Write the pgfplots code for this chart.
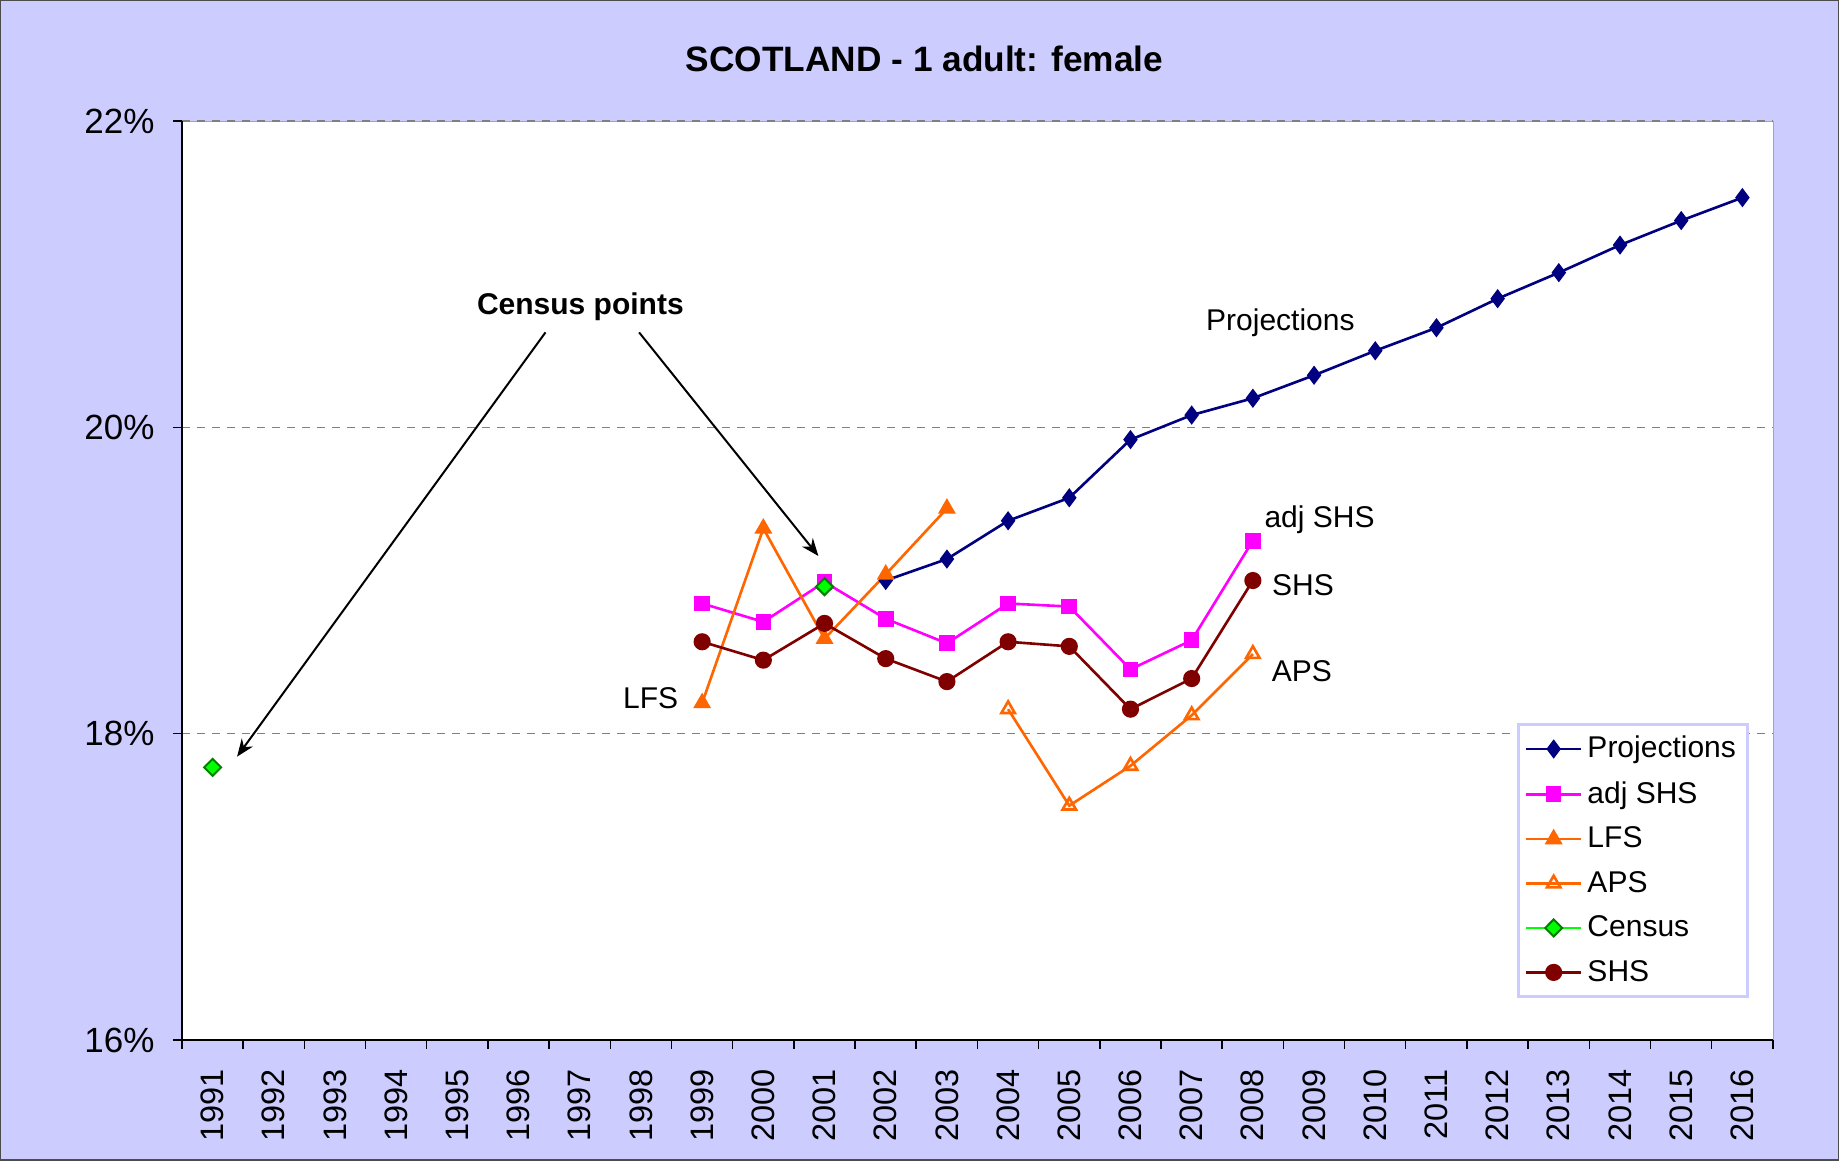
\documentclass[border=0pt]{standalone}
\usepackage{pgfplots}
\pgfplotsset{compat=1.18}
\usepackage{fontspec}
\setmainfont{Liberation Sans}
\usetikzlibrary{arrows.meta}
\definecolor{bgc}{HTML}{CCCCFF}
\definecolor{proj}{HTML}{000080}
\definecolor{adj}{HTML}{FF00FF}
\definecolor{lfs}{HTML}{FF6600}
\definecolor{cen}{HTML}{00FF00}
\definecolor{cend}{HTML}{008000}
\definecolor{shs}{HTML}{800000}
\begin{document}
\begin{tikzpicture}
\fill[bgc] (-72.8pt,-48pt) rectangle (662.8pt,416pt);
\begin{axis}[
  scale only axis, width=636.4pt, height=367.6pt,
  at={(0pt,0pt)}, anchor=south west,
  xmin=1990.5, xmax=2016.5, ymin=16, ymax=22,
  axis x line*=bottom, axis y line*=left,
  axis line style={black, line width=0.6pt},
  axis background/.style={fill=white, draw=gray!70},
  xtick={1991,...,2016},
  minor xtick={1990.5,1991.5,...,2016.5},
  tick align=outside,
  major tick length=3.5pt, minor tick length=3.5pt,
  major x tick style={draw=none},
  minor x tick style={black, line width=0.6pt},
  major y tick style={black, line width=0.6pt},
  ytick={16,18,20,22},
  yticklabels={16\%,18\%,20\%,22\%},
  ymajorgrids, grid style={dashed, gray, line width=0.6pt},
  /pgf/number format/assume math mode=true,
  /pgf/number format/1000 sep={},
  xticklabel style={rotate=90, anchor=east, font=\fontsize{13}{15}\selectfont, xshift=-4.7pt},
  yticklabel style={font=\fontsize{14}{16}\selectfont, xshift=-4pt},
  unbounded coords=jump,
  legend style={at={(rel axis cs:0.985,0.0457)}, anchor=south east, draw=bgc, line width=1.4pt,
    fill=white, font=\fontsize{12}{14}\selectfont, row sep=3.9pt, inner sep=2.6pt},
  legend cell align=left,
  legend image code/.code={\draw[mark repeat=2,mark phase=2,#1] plot coordinates {(0pt,0pt)(11pt,0pt)(22pt,0pt)};},
]
\addplot[proj, line width=1.05pt, mark=diamond*, mark size=3pt, mark options={fill=proj}] coordinates {
(2002,19.00)(2003,19.14)(2004,19.39)(2005,19.54)(2006,19.92)(2007,20.08)(2008,20.19)(2009,20.34)
(2010,20.50)(2011,20.65)(2012,20.84)(2013,21.01)(2014,21.19)(2015,21.35)(2016,21.50)};
\addlegendentry{Projections}
\addplot[adj, line width=1.05pt, mark=square*, mark size=2.6pt, mark options={fill=adj}] coordinates {
(1999,18.85)(2000,18.73)(2001,18.99)(2002,18.75)(2003,18.59)(2004,18.85)(2005,18.83)(2006,18.42)(2007,18.61)(2008,19.26)};
\addlegendentry{adj SHS}
\addplot[lfs, line width=1.05pt, mark=triangle*, mark size=3.1pt, mark options={fill=lfs}] coordinates {
(1999,18.20)(2000,19.34)(2001,18.62)(2002,19.04)(2003,19.47)};
\addlegendentry{LFS}
\addplot[lfs, line width=1.05pt, mark=triangle, mark size=3.1pt, mark options={fill=white}] coordinates {
(2004,18.16)(2005,17.53)(2006,17.79)(2007,18.12)(2008,18.52)};
\addlegendentry{APS}
\addplot[cen, line width=1.05pt, mark=diamond*, mark size=3.4pt, mark options={fill=cen, draw=cend, line width=0.8pt, xscale=1.33}] coordinates {
(1991,17.78)(1992,nan)(2001,18.96)};
\addlegendentry{Census}
\addplot[shs, line width=1.05pt, mark=*, mark size=2.9pt, mark options={fill=shs}] coordinates {
(1999,18.60)(2000,18.48)(2001,18.72)(2002,18.49)(2003,18.34)(2004,18.60)(2005,18.57)(2006,18.16)(2007,18.36)(2008,19.00)};
\addlegendentry{SHS}
\node[font=\fontsize{12}{14}\selectfont] at (axis cs:2008.45,20.68) {Projections};
\node[font=\fontsize{12}{14}\selectfont] at (axis cs:2009.09,19.40) {adj SHS};
\node[font=\fontsize{12}{14}\selectfont] at (axis cs:2008.82,18.97) {SHS};
\node[font=\fontsize{12}{14}\selectfont] at (axis cs:2008.80,18.41) {APS};
\node[font=\fontsize{12}{14}\selectfont] at (axis cs:1998.16,18.23) {LFS};
\node[font=\bfseries\fontsize{12}{14}\selectfont] at (axis cs:1997.01,20.79) {Census points};
\draw[black, line width=0.8pt, -{Stealth[length=7pt,width=5.5pt]}] (axis cs:1996.44,20.62) -- (axis cs:1991.40,17.85);
\draw[black, line width=0.8pt, -{Stealth[length=7pt,width=5.5pt]}] (axis cs:1997.97,20.62) -- (axis cs:2000.90,19.16);
\end{axis}
\node[font=\bfseries\fontsize{14.1}{17}\selectfont] at (297pt,392.6pt) {SCOTLAND - 1 adult: female};
\draw[gray!60!black, line width=1pt] (-72.8pt,-48pt) rectangle (662.8pt,416pt);
\pgfresetboundingbox
\path[use as bounding box] (-72.8pt,-48pt) rectangle (662.8pt,416pt);
\end{tikzpicture}
\end{document}
